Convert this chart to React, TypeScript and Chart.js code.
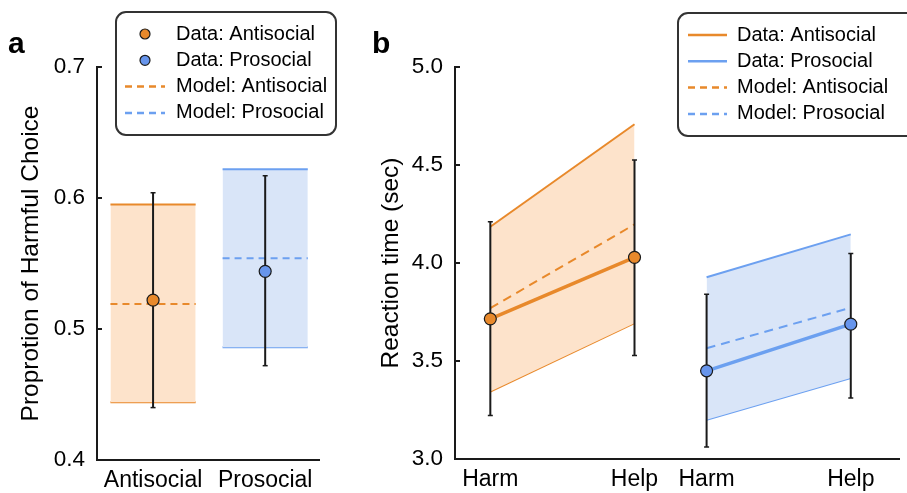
import { useEffect, useRef } from "react";
import { Chart, registerables } from "chart.js";
import type { ChartConfiguration, Plugin } from "chart.js";

Chart.register(...registerables);

const FONT = "'Liberation Sans', Arial, Helvetica, sans-serif";

// ---- panel a: proportion of harmful choice ----
const choiceGroups = ["Antisocial", "Prosocial"];
const choiceMean = [0.522, 0.544];
const choiceErrLow = [0.44, 0.472];
const choiceErrHigh = [0.604, 0.617];
const choiceModel = [0.519, 0.554];
const choiceModelLow = [0.444, 0.486];
const choiceModelHigh = [0.595, 0.622];
const choiceTicks = [0.4, 0.5, 0.6, 0.7];

// ---- panel b: reaction time (sec) ----
const rtConditions = ["Harm", "Help"];
const rtAntiMean = [3.715, 4.029];
const rtAntiErrLow = [3.222, 3.528];
const rtAntiErrHigh = [4.21, 4.525];
const rtAntiModel = [3.77, 4.197];
const rtAntiModelLow = [3.344, 3.693];
const rtAntiModelHigh = [4.185, 4.708];
const rtProMean = [3.45, 3.688];
const rtProErrLow = [3.061, 3.311];
const rtProErrHigh = [3.84, 4.049];
const rtProModel = [3.565, 3.772];
const rtProModelLow = [3.2, 3.413];
const rtProModelHigh = [3.927, 4.146];
const rtTicks = [3.0, 3.5, 4.0, 4.5, 5.0];

const legendLabels = ["Data: Antisocial", "Data: Prosocial", "Model: Antisocial", "Model: Prosocial"];

// colours
const ORANGE = "#E8892B";
const ORANGE_FILL = "#FDE3CB";
const BLUE = "#6CA0F0";
const BLUE_FILL = "#D9E5F8";
const BLUE_DOT = "#6795EC";
const INK = "#1a1a1a";

// where things sit on the linear x axes
const barHalf = 0.38;
const antiX = [0, 2];
const proX = [3, 5];

type Pt = { x: number; y: number };
const seg = (xs: number[], ys: number[]): Pt[] => xs.map((x, i) => ({ x, y: ys[i] }));

const line = (data: Pt[], color: string, width: number, order: number, extra: object = {}) => ({
  type: "line" as const,
  data,
  borderColor: color,
  borderWidth: width,
  pointRadius: 0,
  fill: false,
  order,
  ...extra,
});

const errorBar = (x: number, lo: number, hi: number) =>
  line(seg([x, x], [lo, hi]), INK, 2, 2, {
    pointStyle: "line",
    pointRadius: 2.5,
    pointBorderWidth: 1.5,
    pointBorderColor: INK,
  });

const dots = (data: Pt[], color: string, extraLine: object = {}) =>
  line(data, color, 3.5, 0, {
    pointRadius: 6,
    pointBackgroundColor: color,
    pointBorderColor: INK,
    pointBorderWidth: 1.2,
    ...extraLine,
  });

type Mark = "dot" | "line" | "dash";
interface Decor {
  letter: string;
  letterX: number;
  box: { x: number; y: number; w: number; h: number };
  markX0: number;
  markX1: number;
  textX: number;
  marks: Mark[];
  colors: string[];
}

function decorPlugin(d: Decor): Plugin {
  return {
    id: "panelDecor",
    afterDraw(chart) {
      const ctx = chart.ctx;
      const y = chart.scales.y;
      const left = chart.chartArea.left;
      ctx.save();
      // inward tick marks on the y axis
      ctx.strokeStyle = INK;
      ctx.lineWidth = 2;
      y.ticks.forEach((t) => {
        const py = Math.round(y.getPixelForValue(t.value));
        ctx.beginPath();
        ctx.moveTo(left, py);
        ctx.lineTo(left + 5, py);
        ctx.stroke();
      });

      // legend box
      const { x, y: by, w, h } = d.box;
      const r = 10;
      ctx.beginPath();
      ctx.moveTo(x + r, by);
      ctx.lineTo(x + w - r, by);
      ctx.arcTo(x + w, by, x + w, by + r, r);
      ctx.lineTo(x + w, by + h - r);
      ctx.arcTo(x + w, by + h, x + w - r, by + h, r);
      ctx.lineTo(x + r, by + h);
      ctx.arcTo(x, by + h, x, by + h - r, r);
      ctx.lineTo(x, by + r);
      ctx.arcTo(x, by, x + r, by, r);
      ctx.closePath();
      ctx.fillStyle = "#fff";
      ctx.fill();
      ctx.strokeStyle = "#333";
      ctx.lineWidth = 2;
      ctx.stroke();

      ctx.font = `20px ${FONT}`;
      ctx.textBaseline = "middle";
      ctx.textAlign = "left";
      legendLabels.forEach((label, i) => {
        const cy = by + 22 + i * 26.3;
        const color = d.colors[i];
        const mark = d.marks[i];
        if (mark === "dot") {
          ctx.beginPath();
          ctx.arc((d.markX0 + d.markX1) / 2, cy, 5, 0, Math.PI * 2);
          ctx.fillStyle = color;
          ctx.fill();
          ctx.lineWidth = 1.2;
          ctx.strokeStyle = INK;
          ctx.stroke();
        } else {
          ctx.beginPath();
          ctx.setLineDash(mark === "dash" ? [7, 5] : []);
          ctx.moveTo(d.markX0, cy);
          ctx.lineTo(d.markX1, cy);
          ctx.strokeStyle = color;
          ctx.lineWidth = 2.5;
          ctx.stroke();
          ctx.setLineDash([]);
        }
        ctx.fillStyle = "#000";
        ctx.fillText(label, d.textX, cy);
      });

      // panel letter
      ctx.font = `bold 30px ${FONT}`;
      ctx.textBaseline = "alphabetic";
      ctx.fillStyle = "#000";
      ctx.fillText(d.letter, d.letterX, 53);
      ctx.restore();
    },
  };
}

interface AxisSetup {
  xMin: number;
  xMax: number;
  xTicks: number[];
  xLabels: string[];
  yMin: number;
  yMax: number;
  yTicks: number[];
  yTitle: string;
  yWidth: number;
  xHeight: number;
  padRight: number;
}

function makeOptions(a: AxisSetup): ChartConfiguration<"line">["options"] {
  return {
    animation: false,
    responsive: true,
    maintainAspectRatio: false,
    events: [],
    layout: { padding: { top: 67, right: a.padRight, left: 0, bottom: 0 } },
    plugins: { legend: { display: false }, tooltip: { enabled: false } },
    scales: {
      x: {
        type: "linear",
        min: a.xMin,
        max: a.xMax,
        grid: { display: false, drawTicks: false },
        border: { display: true, color: INK, width: 2 },
        afterBuildTicks: (scale) => {
          scale.ticks = a.xTicks.map((value) => ({ value }));
        },
        afterFit: (scale) => {
          scale.height = a.xHeight;
        },
        ticks: {
          autoSkip: false,
          maxRotation: 0,
          padding: 7,
          color: "#000",
          font: { family: FONT, size: 23 },
          callback: (_v, i) => a.xLabels[i],
        },
      },
      y: {
        type: "linear",
        min: a.yMin,
        max: a.yMax,
        grid: { display: false, drawTicks: false },
        border: { display: true, color: INK, width: 2 },
        afterBuildTicks: (scale) => {
          scale.ticks = a.yTicks.map((value) => ({ value }));
        },
        afterFit: (scale) => {
          scale.width = a.yWidth;
        },
        ticks: {
          padding: 12,
          color: "#000",
          font: { family: FONT, size: 22.5 },
          callback: (v) => Number(v).toFixed(1),
        },
        title: {
          display: true,
          text: a.yTitle,
          color: "#000",
          font: { family: FONT, size: 24.5 },
          padding: { top: 17, bottom: 0 },
        },
      },
    },
  };
}

function choiceDatasets() {
  const sets: any[] = [];
  choiceGroups.forEach((_g, i) => {
    const color = i === 0 ? ORANGE : BLUE;
    const fillColor = i === 0 ? ORANGE_FILL : BLUE_FILL;
    const dotColor = i === 0 ? ORANGE : BLUE_DOT;
    const xs = [i - barHalf, i + barHalf];
    sets.push(
      line(seg(xs, [choiceModelHigh[i], choiceModelHigh[i]]), color, 2, 4, {
        fill: "+1",
        backgroundColor: fillColor,
      })
    );
    sets.push(line(seg(xs, [choiceModelLow[i], choiceModelLow[i]]), color, 2, 4));
    sets.push(line(seg(xs, [choiceModel[i], choiceModel[i]]), color, 2, 3, { borderDash: [7, 5] }));
    sets.push(errorBar(i, choiceErrLow[i], choiceErrHigh[i]));
    sets.push(dots([{ x: i, y: choiceMean[i] }], dotColor, { showLine: false }));
  });
  return sets;
}

function rtDatasets() {
  const groups = [
    { xs: antiX, mean: rtAntiMean, lo: rtAntiErrLow, hi: rtAntiErrHigh, model: rtAntiModel, mLo: rtAntiModelLow, mHi: rtAntiModelHigh, color: ORANGE, fill: ORANGE_FILL, dot: ORANGE },
    { xs: proX, mean: rtProMean, lo: rtProErrLow, hi: rtProErrHigh, model: rtProModel, mLo: rtProModelLow, mHi: rtProModelHigh, color: BLUE, fill: BLUE_FILL, dot: BLUE_DOT },
  ];
  const sets: any[] = [];
  groups.forEach((g) => {
    sets.push(line(seg(g.xs, g.mHi), g.color, 2, 4, { fill: "+1", backgroundColor: g.fill }));
    sets.push(line(seg(g.xs, g.mLo), g.color, 2, 4));
    sets.push(line(seg(g.xs, g.model), g.color, 2, 3, { borderDash: [9, 6] }));
    g.xs.forEach((x, k) => sets.push(errorBar(x, g.lo[k], g.hi[k])));
    sets.push(dots(seg(g.xs, g.mean), g.color, { pointBackgroundColor: g.dot }));
  });
  return sets;
}

export default function App() {
  const aRef = useRef<HTMLCanvasElement | null>(null);
  const bRef = useRef<HTMLCanvasElement | null>(null);

  useEffect(() => {
    if (!aRef.current || !bRef.current) return;

    const chartA = new Chart(aRef.current, {
      type: "line",
      data: { datasets: choiceDatasets() },
      options: makeOptions({
        xMin: -0.5,
        xMax: 1.48,
        xTicks: [0, 1],
        xLabels: choiceGroups,
        yMin: 0.4,
        yMax: 0.7,
        yTicks: choiceTicks,
        yTitle: "Proprotion of Harmful Choice",
        yWidth: 97,
        xHeight: 33,
        padRight: 41,
      }),
      plugins: [
        decorPlugin({
          letter: "a",
          letterX: 8,
          box: { x: 116, y: 12, w: 220, h: 123 },
          markX0: 125,
          markX1: 165,
          textX: 176,
          marks: ["dot", "dot", "dash", "dash"],
          colors: [ORANGE, BLUE_DOT, ORANGE, BLUE],
        }),
      ],
    });

    const chartB = new Chart(bRef.current, {
      type: "line",
      data: { datasets: rtDatasets() },
      options: makeOptions({
        xMin: -0.49,
        xMax: 5.68,
        xTicks: [...antiX, ...proX],
        xLabels: [...rtConditions, ...rtConditions],
        yMin: 3.0,
        yMax: 5.0,
        yTicks: rtTicks,
        yTitle: "Reaction time (sec)",
        yWidth: 95,
        xHeight: 34,
        padRight: 0,
      }),
      plugins: [
        decorPlugin({
          letter: "b",
          letterX: 12,
          box: { x: 318, y: 13, w: 260, h: 123 },
          markX0: 328,
          markX1: 367,
          textX: 377,
          marks: ["line", "line", "dash", "dash"],
          colors: [ORANGE, BLUE, ORANGE, BLUE],
        }),
      ],
    });

    return () => {
      chartA.destroy();
      chartB.destroy();
    };
  }, []);

  return (
    <div style={{ position: "absolute", left: 0, top: 0, width: 907, height: 493, background: "#fff", overflow: "hidden" }}>
      <div style={{ position: "absolute", left: 0, top: 0, width: 360, height: 493 }}>
        <canvas ref={aRef} />
      </div>
      <div style={{ position: "absolute", left: 360, top: 0, width: 547, height: 493 }}>
        <canvas ref={bRef} />
      </div>
    </div>
  );
}
